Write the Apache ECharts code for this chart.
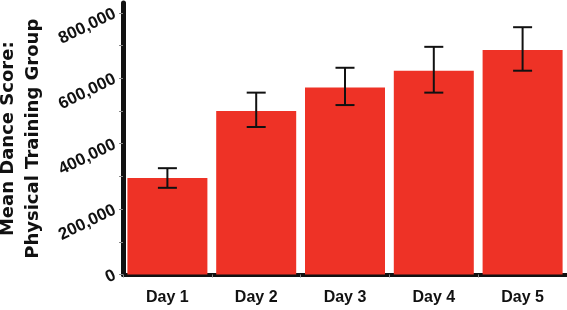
<!DOCTYPE html>
<html>
<head>
<meta charset="utf-8">
<script src="https://cdn.jsdelivr.net/npm/echarts@6/dist/echarts.min.js"></script>
<style>
html,body{margin:0;padding:0;background:#fff;}
#chart{width:567px;height:310px;}
</style>
</head>
<body>
<div id="chart"></div>
<script>
var categories = ['Day 1', 'Day 2', 'Day 3', 'Day 4', 'Day 5'];
var meanScores = [295000, 500000, 572000, 623000, 686000];
var errLow = [265000, 451000, 518000, 556000, 623000];
var errHigh = [325000, 556000, 632000, 696000, 756000];
var yLabelValues = [0, 200000, 400000, 600000, 800000];
var yTickValues = [0, 100000, 200000, 300000, 400000, 500000, 600000, 700000, 800000];
var yAxisTitle = 'Mean Dance Score:\nPhysical Training Group';

var chart = echarts.init(document.getElementById('chart'));
chart.setOption({
  animation: false,
  grid: { left: 123, right: 0, top: 3, bottom: 35.5, containLabel: false, outerBoundsMode: 'none' },
  xAxis: {
    type: 'category',
    data: categories,
    axisLine: { lineStyle: { color: '#111', width: 4 } },
    axisTick: { show: true, length: 3, lineStyle: { color: '#888', width: 1 } },
    axisLabel: {
      color: '#111', fontWeight: 'bold', fontSize: 16,
      fontFamily: 'Liberation Sans', margin: 15
    }
  },
  yAxis: {
    type: 'value',
    min: 0,
    max: 830000,
    interval: 100000,
    name: yAxisTitle,
    nameLocation: 'middle',
    nameRotate: 90,
    nameGap: 67,
    nameTextStyle: {
      color: '#111', fontWeight: 'bold', fontSize: 18,
      fontFamily: 'DejaVu Sans', lineHeight: 25, align: 'center'
    },
    splitLine: { show: false },
    axisLine: { show: true, lineStyle: { color: '#111', width: 5 } },
    axisTick: { show: true, length: 4, customValues: yTickValues, lineStyle: { color: '#888', width: 1 } },
    axisLabel: {
      customValues: yLabelValues,
      rotate: 26,
      margin: 8,
      color: '#111', fontWeight: 'bold', fontSize: 17,
      fontFamily: 'Liberation Sans',
      formatter: function (v) { return v.toLocaleString('en-US'); }
    }
  },
  series: [
    {
      type: 'bar',
      data: meanScores,
      barWidth: 80,
      itemStyle: { color: '#ee3226' }
    },
    {
      type: 'custom',
      data: categories.map(function (c, i) { return [i, errLow[i], errHigh[i]]; }),
      renderItem: function (params, api) {
        var lo = api.coord([api.value(0), api.value(1)]);
        var hi = api.coord([api.value(0), api.value(2)]);
        var hw = 9.5;
        var st = { stroke: '#111', lineWidth: 2 };
        return {
          type: 'group',
          children: [
            { type: 'line', shape: { x1: hi[0], y1: hi[1], x2: lo[0], y2: lo[1] }, style: st },
            { type: 'line', shape: { x1: hi[0] - hw, y1: hi[1], x2: hi[0] + hw, y2: hi[1] }, style: st },
            { type: 'line', shape: { x1: lo[0] - hw, y1: lo[1], x2: lo[0] + hw, y2: lo[1] }, style: st }
          ]
        };
      },
      z: 10
    }
  ]
});
</script>
</body>
</html>
